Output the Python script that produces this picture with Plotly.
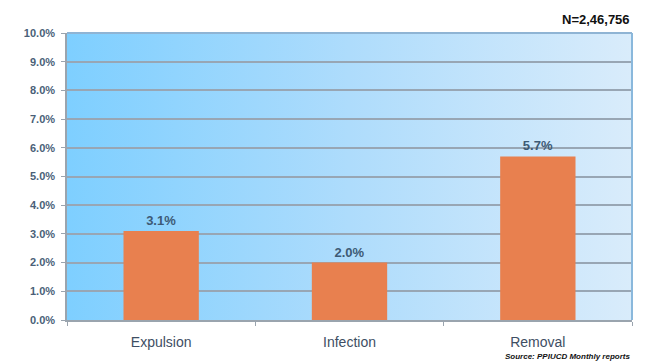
import base64
import plotly.graph_objects as go

categories = ["Expulsion", "Infection", "Removal"]
values = [0.031, 0.020, 0.057]
labels = ["3.1%", "2.0%", "5.7%"]

svg = ('<svg xmlns="http://www.w3.org/2000/svg" width="100" height="100" preserveAspectRatio="none">'
       '<defs><linearGradient id="g" x1="0" y1="0" x2="1" y2="0">'
       '<stop offset="0" stop-color="#7ecfff"/><stop offset="0.5" stop-color="#aedcfc"/>'
       '<stop offset="1" stop-color="#d9ecfb"/></linearGradient></defs>'
       '<rect width="100" height="100" fill="url(#g)"/></svg>')
src = "data:image/svg+xml;base64," + base64.b64encode(svg.encode()).decode()

fig = go.Figure()
fig.add_trace(go.Bar(
    x=categories, y=values, width=0.4,
    marker=dict(color="#e8804f", line=dict(width=0)),
    text=["<b>" + t + "</b>" for t in labels], textposition="outside",
    textfont=dict(family="Liberation Sans, Arial", size=13, color="#3d5a75"),
    cliponaxis=False,
))

fig.update_layout(
    width=656, height=364,
    margin=dict(l=67, r=24, t=33, b=44),
    paper_bgcolor="white", plot_bgcolor="rgba(0,0,0,0)",
    showlegend=False,
    images=[dict(source=src, xref="paper", yref="paper", x=0, y=1, sizex=1, sizey=1,
                 sizing="stretch", layer="below", xanchor="left", yanchor="top")],
    xaxis=dict(showgrid=False, ticks="outside", tickson="boundaries", ticklen=4,
               tickcolor="#9aa4ae", showline=True, linecolor="#9aa4ae", linewidth=1.5,
               tickfont=dict(family="Liberation Sans, Arial", size=14, color="#3e4e63"),
               ticklabelstandoff=8, mirror=False),
    yaxis=dict(range=[0, 0.1], dtick=0.01, tickformat=".1%", showgrid=True,
               gridcolor="#98a6b4", gridwidth=1.5, ticks="outside", ticklen=4,
               tickcolor="#9aa4ae", showline=True, linecolor="#9aa4ae", linewidth=1.5,
               tickfont=dict(family="Liberation Sans, Arial", size=11, color="#4a5f78",
                             weight="bold"),
               ticklabelstandoff=4, zeroline=False),
    shapes=[dict(type="line", xref="paper", yref="paper", x0=1, x1=1, y0=0, y1=1,
                 line=dict(color="#8ab8dc", width=2)),
            dict(type="line", xref="paper", yref="paper", x0=0, x1=1, y0=1, y1=1,
                 line=dict(color="#8fb4d4", width=2))],
    annotations=[
        dict(text="<b>N=2,46,756</b>", xref="paper", yref="paper", x=1, y=1,
             xanchor="right", yanchor="bottom", yshift=4, showarrow=False,
             font=dict(family="Liberation Sans, Arial", size=13, color="#111111")),
        dict(text="<b><i>Source: PPIUCD Monthly reports</i></b>", xref="paper", yref="paper",
             x=1, y=0, xanchor="right", yanchor="top", yshift=-30, showarrow=False,
             font=dict(family="Liberation Sans, Arial", size=8, color="#111111")),
    ],
)

fig.write_html("out.html")
